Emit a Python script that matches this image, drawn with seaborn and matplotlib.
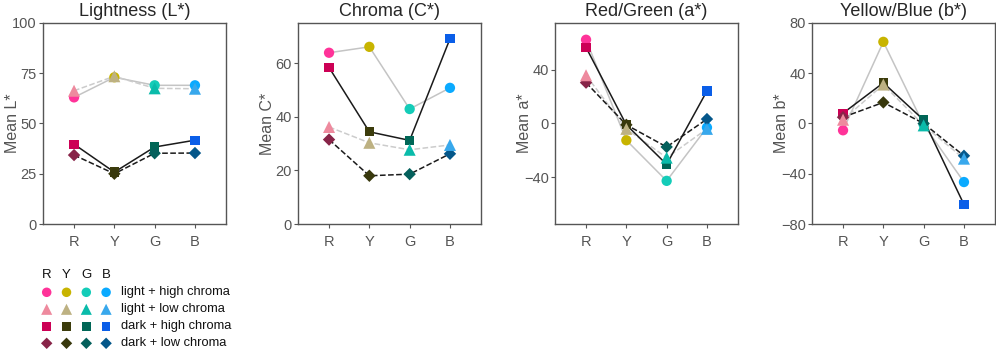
import matplotlib
matplotlib.use("Agg")
import matplotlib.pyplot as plt
import numpy as np
import pandas as pd
import seaborn as sns

# Categories and groups
hues = ["R", "Y", "G", "B"]
groups = ["light + high chroma", "light + low chroma",
          "dark + high chroma", "dark + low chroma"]

# Mean values per group (R, Y, G, B)
L_vals = {"light + high chroma": [63, 73, 69, 69],
          "light + low chroma": [66.3, 73.5, 67.5, 67.3],
          "dark + high chroma": [39.7, 25.8, 38.3, 41.7],
          "dark + low chroma": [34.3, 25.0, 35.2, 35.3]}
C_vals = {"light + high chroma": [63.9, 66.1, 42.9, 50.8],
          "light + low chroma": [36.2, 30.3, 27.7, 29.5],
          "dark + high chroma": [58.4, 34.4, 31.2, 69.1],
          "dark + low chroma": [31.5, 18.0, 18.6, 26.2]}
a_vals = {"light + high chroma": [62.5, -12.5, -42.8, -3.0],
          "light + low chroma": [36.0, -4.0, -25.5, -4.0],
          "dark + high chroma": [56.8, -1.0, -30.5, 24.3],
          "dark + low chroma": [30.5, -1.0, -17.5, 3.3]}
b_vals = {"light + high chroma": [-5.4, 65.0, -1.0, -46.6],
          "light + low chroma": [3.0, 31.0, -1.5, -28.0],
          "dark + high chroma": [8.2, 32.4, 2.8, -64.5],
          "dark + low chroma": [5.0, 16.8, 0.0, -25.7]}

panels = [("Lightness (L*)", "Mean L*", L_vals, (0, 100), [0, 25, 50, 75, 100]),
          ("Chroma (C*)", "Mean C*", C_vals, (0, 75), [0, 20, 40, 60]),
          ("Red/Green (a*)", "Mean a*", a_vals, (-75, 75), [-40, 0, 40]),
          ("Yellow/Blue (b*)", "Mean b*", b_vals, (-80, 80), [-80, -40, 0, 40, 80])]

# Styling per group
point_colors = {"light + high chroma": ["#ff3399", "#c8b400", "#14ccb8", "#0aaaff"],
                "light + low chroma": ["#ee8a9e", "#bdb182", "#0abbaa", "#38a8ec"],
                "dark + high chroma": ["#cc0055", "#3c3c0c", "#006656", "#0a5ee8"],
                "dark + low chroma": ["#882448", "#38380c", "#04605c", "#04578a"]}
markers = {"light + high chroma": "o", "light + low chroma": "^",
           "dark + high chroma": "s", "dark + low chroma": "D"}
sizes = {"light + high chroma": 55, "light + low chroma": 75,
         "dark + high chroma": 45, "dark + low chroma": 40}
line_colors = {"light + high chroma": "#c4c4c4", "light + low chroma": "#cccccc",
               "dark + high chroma": "#1a1a1a", "dark + low chroma": "#1a1a1a"}
line_styles = {"light + high chroma": "-", "light + low chroma": "--",
               "dark + high chroma": "-", "dark + low chroma": "--"}
zorders = {"light + high chroma": 3, "dark + high chroma": 4,
           "dark + low chroma": 5, "light + low chroma": 6}

sns.set_style("white")
plt.rcParams["font.family"] = ["Liberation Sans", "DejaVu Sans"]

fig = plt.figure(figsize=(9.96, 3.55), dpi=100)
lefts = [43, 298, 555, 812]
axes = [fig.add_axes([l / 996, 131 / 355, 183 / 996, 201 / 355]) for l in lefts]

pos = np.arange(len(hues))
for ax, (title, ylabel, vals, ylim, yticks) in zip(axes, panels):
    for g in groups:
        df = pd.DataFrame({"pos": pos, "val": vals[g], "hue": hues})
        sns.lineplot(data=df, x="pos", y="val", color=line_colors[g],
                     linestyle=line_styles[g], linewidth=1.1, ax=ax,
                     zorder=2, legend=False)
        sns.scatterplot(data=df, x="pos", y="val", hue="hue",
                        palette=dict(zip(hues, point_colors[g])),
                        marker=markers[g], s=sizes[g], edgecolor="none",
                        linewidth=0, ax=ax, zorder=zorders[g], legend=False)
    ax.set_xlim(-0.77, 3.77)
    ax.set_ylim(*ylim)
    ax.set_xticks(pos)
    ax.set_xticklabels(hues)
    ax.set_yticks(yticks)
    ax.set_yticklabels([str(t).replace("-", "\u2212") for t in yticks])
    ax.set_xlabel("")
    ax.set_ylabel(ylabel, fontsize=11.5, color="#555555", va="center")
    ax.yaxis.set_label_coords(-0.165, 0.5)
    ax.set_title(title, fontsize=13, pad=5)
    ax.tick_params(axis="both", labelsize=10.5, labelcolor="#555555",
                   color="#555555", length=3, width=0.8, direction="out",
                   bottom=True, left=True)
    ax.tick_params(axis="x", pad=5)
    ax.tick_params(axis="y", pad=1.5)
    for sp in ax.spines.values():
        sp.set_color("#555555")
        sp.set_linewidth(1.0)

# Marker key in the lower left
key = fig.add_axes([30 / 996, 0, 230 / 996, 95 / 355])
key.set_xlim(0, 230)
key.set_ylim(95, 0)
key.axis("off")
col_x = 16.7 + 19.8 * np.arange(len(hues))
for i, h in enumerate(hues):
    key.text(col_x[i], 15, h, fontsize=9.5, ha="center", va="center",
             color="#111111")
for j, g in enumerate(groups):
    row_y = 32.3 + 17.0 * j
    kdf = pd.DataFrame({"x": col_x, "y": [row_y] * 4, "hue": hues})
    sns.scatterplot(data=kdf, x="x", y="y", hue="hue",
                    palette=dict(zip(hues, point_colors[g])),
                    marker=markers[g], s=sizes[g] * 0.85, edgecolor="none",
                    linewidth=0, ax=key, legend=False)
    key.text(90.5, row_y, g, fontsize=9.3, ha="left", va="center",
             color="#111111")
key.set_xlabel("")
key.set_ylabel("")

fig.savefig("out.png", dpi=100)
